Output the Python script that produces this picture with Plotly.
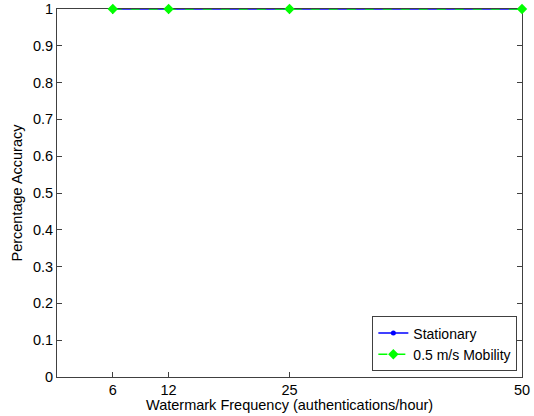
import plotly.graph_objects as go

freq = [6, 12, 25, 50]
stationary = [1, 1, 1, 1]
mobility = [1, 1, 1, 1]
yticks = [0, 0.1, 0.2, 0.3, 0.4, 0.5, 0.6, 0.7, 0.8, 0.9, 1]
xtitle = "Watermark Frequency (authentications/hour)"
ytitle = "Percentage Accuracy"

FONT = "Liberation Sans, Arial"

fig = go.Figure()
fig.add_trace(go.Scatter(x=freq, y=stationary, mode="lines+markers", name="Stationary",
                         line=dict(color="#0000ff", width=1.5),
                         marker=dict(symbol="circle", size=5, color="#0000ff"),
                         cliponaxis=False))
fig.add_trace(go.Scatter(x=freq, y=mobility, mode="lines+markers", name="0.5 m/s Mobility",
                         line=dict(color="#00ff00", width=1.5, dash="dash"),
                         marker=dict(symbol="diamond", size=8, color="#00ff00"),
                         cliponaxis=False))

axis_common = dict(showline=True, linecolor="#404040", linewidth=1, mirror="ticks",
                   ticks="inside", ticklen=5, tickcolor="#404040", showgrid=False,
                   zeroline=False, automargin=False, layer="below traces",
                   tickfont=dict(family=FONT, size=14.5, color="black"))
fig.update_xaxes(range=[0, 50], tickvals=freq, ticktext=[str(v) for v in freq],
                 **axis_common)
fig.update_yaxes(range=[0, 1], tickvals=yticks, ticktext=[("%g" % v) for v in yticks],
                 title=dict(text=ytitle, standoff=6,
                            font=dict(family=FONT, size=14.5, color="black")),
                 **axis_common)
fig.add_annotation(text=xtitle, xref="paper", yref="paper", x=0.5, y=0,
                   xanchor="center", yanchor="top", yshift=-18, showarrow=False,
                   font=dict(family=FONT, size=14.5, color="black"))
fig.update_layout(width=534, height=416, margin=dict(l=57, r=12, t=9, b=39),
                  plot_bgcolor="white", paper_bgcolor="white",
                  font=dict(family=FONT, size=14, color="black"),
                  legend=dict(x=0.99, y=0.015, xanchor="right", yanchor="bottom",
                              bgcolor="white", bordercolor="#404040", borderwidth=1,
                              font=dict(family=FONT, size=14), tracegroupgap=0, itemwidth=30))
fig.write_html("out.html")
